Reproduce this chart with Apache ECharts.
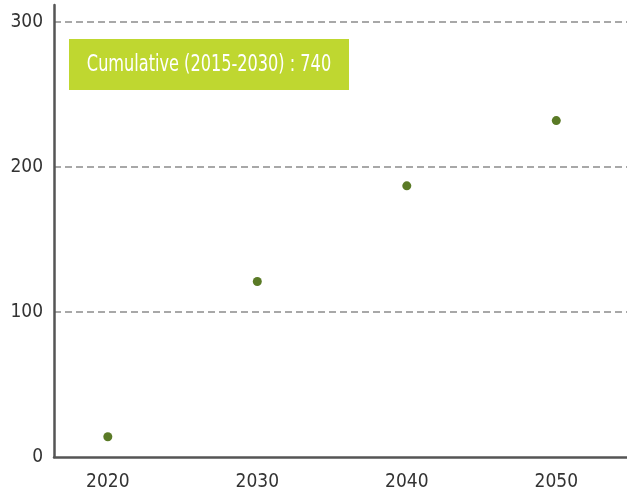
<!DOCTYPE html>
<html><head><meta charset="utf-8">
<script src="https://cdn.jsdelivr.net/npm/echarts@6/dist/echarts.min.js"></script>
<style>html,body{margin:0;padding:0;background:#fff}#c{width:627px;height:492px}</style>
</head><body><div id="c"></div>
<script>
const years = [2020, 2030, 2040, 2050];
const values = [14, 121, 187, 232];
const yTicks = [0, 100, 200, 300];
const xTicks = [2020, 2030, 2040, 2050];
const noteText = 'Cumulative (2015-2030) : 740';

const FONT = '"DejaVu Sans Condensed", "Liberation Sans Narrow", sans-serif';
const chart = echarts.init(document.getElementById('c'));
chart.setOption({
  animation: false,
  backgroundColor: '#fff',
  grid: { left: 54, right: 0, top: 5, bottom: 35 },
  xAxis: {
    type: 'value', min: 2016.4, max: 2054.73,
    axisLine: { show: true, lineStyle: { color: '#555', width: 2.5 } },
    axisTick: { show: false },
    splitLine: { show: false },
    axisLabel: { customValues: xTicks, color: '#333', fontSize: 19, fontFamily: FONT, margin: 16, formatter: v => String(v) }
  },
  yAxis: {
    type: 'value', min: 0, max: 311.7, interval: 100,
    axisLine: { show: true, lineStyle: { color: '#555', width: 2.5 } },
    axisTick: { show: false },
    splitLine: { show: true, showMinLine: false, showMaxLine: false, lineStyle: { color: '#8c8c8c', width: 1.5, type: [7, 4] } },
    axisLabel: { customValues: yTicks, color: '#333', fontSize: 19, fontFamily: FONT, margin: 11 }
  },
  series: [{
    type: 'scatter',
    data: years.map((y, i) => [y, values[i]]),
    symbolSize: 9,
    itemStyle: { color: '#5a7a26', opacity: 1 }
  }],
  graphic: [{
    type: 'group', left: 69, top: 39,
    children: [
      { type: 'rect', shape: { x: 0, y: 0, width: 280, height: 51 }, style: { fill: '#bfd730' } },
      { type: 'text', x: 140, y: 26, scaleX: 0.78, style: { text: noteText, fill: '#fff', font: '23px ' + FONT, textAlign: 'center', textVerticalAlign: 'middle' } }
    ]
  }]
});
</script></body></html>
